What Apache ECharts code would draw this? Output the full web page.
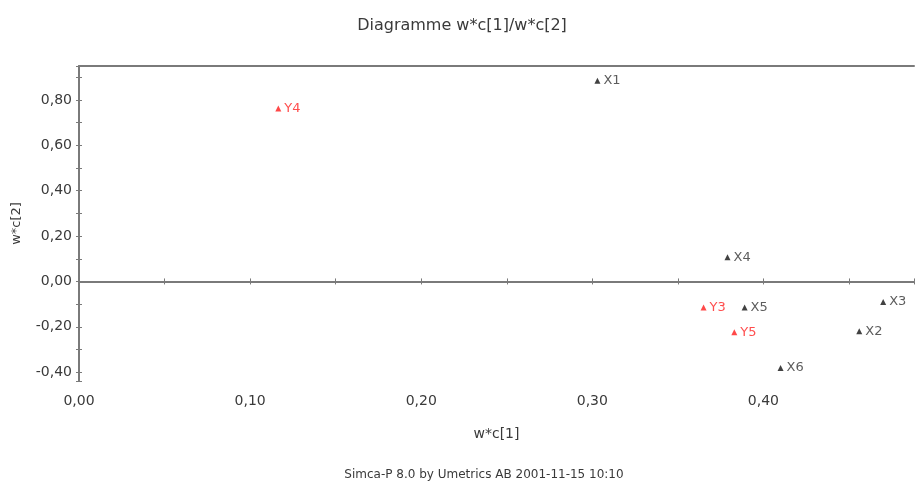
<!DOCTYPE html>
<html>
<head>
<meta charset="utf-8">
<script src="https://cdn.jsdelivr.net/npm/echarts@6/dist/echarts.min.js"></script>
<style>html,body{margin:0;padding:0;background:#fff}#c{width:917px;height:481px}</style>
</head>
<body>
<div id="c"></div>
<script>
// X variables (black)
const xNames = ['X1', 'X2', 'X3', 'X4', 'X5', 'X6'];
const xW1 = [0.303, 0.456, 0.470, 0.379, 0.389, 0.410];
const xW2 = [0.885, -0.220, -0.091, 0.107, -0.115, -0.382];
// Y variables (red)
const yNames = ['Y3', 'Y4', 'Y5'];
const yW1 = [0.365, 0.1165, 0.383];
const yW2 = [-0.115, 0.763, -0.224];

const titleText = 'Diagramme w*c[1]/w*c[2]';
const footerText = 'Simca-P 8.0 by Umetrics AB 2001-11-15 10:10';
const xName = 'w*c[1]';
const yName = 'w*c[2]';

const X_MIN = 0, X_MAX = 0.488, Y_MIN = -0.439, Y_MAX = 0.95;
const FONT = 'DejaVu Sans';
const TXT = '#3a3a3a';
const AX = '#7a7a7a';

function fmt(v, step) {
  const k = v / step;
  if (Math.abs(k - Math.round(k)) > 1e-6) return '';
  return (Math.abs(v) < 1e-9 ? 0 : v).toFixed(2).replace('.', ',');
}

const chart = echarts.init(document.getElementById('c'), null, {renderer: 'canvas'});
const baseX = {type: 'value', min: X_MIN, max: X_MAX, interval: 0.05, splitLine: {show: false}};
const baseY = {type: 'value', min: Y_MIN, max: Y_MAX, minInterval: 0.1, maxInterval: 0.1, splitLine: {show: false}};

chart.setOption({
  animation: false,
  grid: {left: 79, top: 66, right: 0, bottom: 100, containLabel: false},
  graphic: [
    {type: 'text', x: 462, y: 26, style: {text: titleText, font: '16px "' + FONT + '"', fill: TXT, align: 'center', verticalAlign: 'middle'}},
    {type: 'text', x: 484, y: 475, style: {text: footerText, font: '12px "' + FONT + '"', fill: TXT, align: 'center', verticalAlign: 'middle'}}
  ],
  xAxis: [
    Object.assign({}, baseX, {
      position: 'bottom',
      name: xName, nameLocation: 'middle', nameGap: 46,
      nameTextStyle: {fontFamily: FONT, fontSize: 14, color: TXT},
      axisLine: {lineStyle: {color: AX, width: 2}},
      axisTick: {show: true, inside: false, length: 3, lineStyle: {color: AX, width: 1}},
      axisLabel: {interval: 0, margin: 13, fontFamily: FONT, fontSize: 14, color: TXT, formatter: v => fmt(v, 0.1)}
    }),
    Object.assign({}, baseX, {
      position: 'bottom',
      axisLine: {show: false},
      axisTick: {show: true, inside: true, length: 3, lineStyle: {color: AX, width: 1}},
      axisLabel: {show: false}
    }),
    Object.assign({}, baseX, {
      position: 'top',
      axisLine: {show: true, lineStyle: {color: AX, width: 2}},
      axisTick: {show: false},
      axisLabel: {show: false}
    })
  ],
  yAxis: [
    Object.assign({}, baseY, {
      position: 'left',
      name: yName, nameLocation: 'middle', nameGap: 56,
      nameTextStyle: {fontFamily: FONT, fontSize: 13, color: TXT},
      axisLine: {show: true, lineStyle: {color: AX, width: 2}},
      axisTick: {show: true, inside: false, length: 3, lineStyle: {color: AX, width: 1}},
      axisLabel: {interval: 0, margin: 7, fontFamily: FONT, fontSize: 14, color: TXT, formatter: v => fmt(v, 0.2)}
    }),
    Object.assign({}, baseY, {
      position: 'left',
      axisLine: {show: false},
      axisTick: {show: true, inside: true, length: 3, lineStyle: {color: AX, width: 1}},
      axisLabel: {show: false}
    })
  ],
  series: [
    {
      type: 'scatter', xAxisIndex: 0, yAxisIndex: 0,
      symbol: 'triangle', symbolSize: 6,
      itemStyle: {color: '#111'},
      label: {show: true, position: 'right', distance: 3, formatter: p => p.name, fontFamily: FONT, fontSize: 13, color: '#333'},
      data: xNames.map((n, i) => ({name: n, value: [xW1[i], xW2[i]]})),
      markLine: {
        silent: true, symbol: 'none', label: {show: false},
        lineStyle: {color: AX, width: 2, type: 'solid'},
        data: [{yAxis: 0}]
      }
    },
    {
      type: 'scatter', xAxisIndex: 0, yAxisIndex: 0,
      symbol: 'triangle', symbolSize: 6,
      itemStyle: {color: '#ff1a1a'},
      label: {show: true, position: 'right', distance: 3, formatter: p => p.name, fontFamily: FONT, fontSize: 13, color: '#ff2020'},
      data: yNames.map((n, i) => ({name: n, value: [yW1[i], yW2[i]]}))
    }
  ]
});
</script>
</body>
</html>
